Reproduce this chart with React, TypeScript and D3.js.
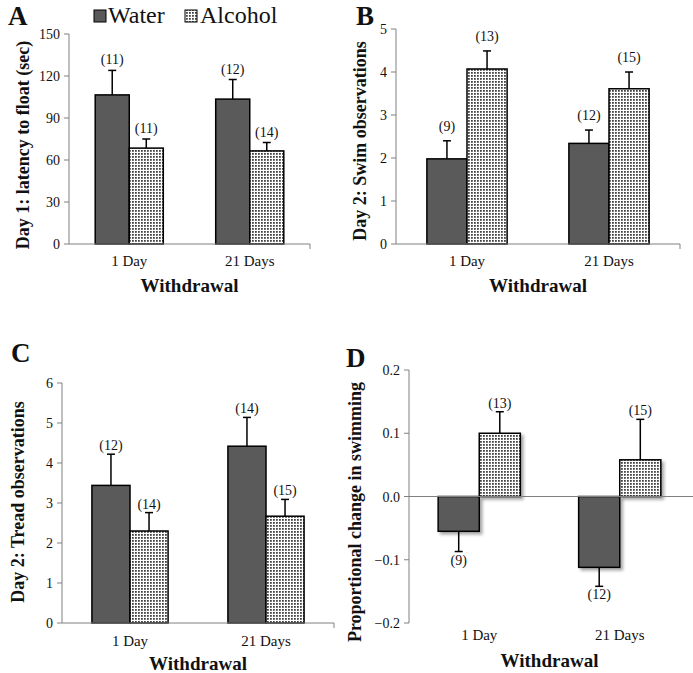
import React from "react";
import * as d3 from "d3";

const categories = ["1 Day", "21 Days"];
const seriesNames = ["Water", "Alcohol"];

// Panel A: Day 1 latency to float (sec)
const latencyWater = [106.5, 103.5];
const latencyWaterSem = [17.5, 14];
const latencyAlcohol = [68.5, 66.5];
const latencyAlcoholSem = [6.5, 6];
const latencyWaterN = [11, 12];
const latencyAlcoholN = [11, 14];
const latencyTicks = [0, 30, 60, 90, 120, 150];

// Panel B: Day 2 swim observations
const swimWater = [1.98, 2.34];
const swimWaterSem = [0.42, 0.31];
const swimAlcohol = [4.07, 3.61];
const swimAlcoholSem = [0.42, 0.39];
const swimWaterN = [9, 12];
const swimAlcoholN = [13, 15];
const swimTicks = [0, 1, 2, 3, 4, 5];

// Panel C: Day 2 tread observations
const treadWater = [3.44, 4.42];
const treadWaterSem = [0.78, 0.72];
const treadAlcohol = [2.3, 2.67];
const treadAlcoholSem = [0.46, 0.42];
const treadWaterN = [12, 14];
const treadAlcoholN = [14, 15];
const treadTicks = [0, 1, 2, 3, 4, 5, 6];

// Panel D: proportional change in swimming
const changeWater = [-0.055, -0.112];
const changeWaterSem = [0.032, 0.03];
const changeAlcohol = [0.1, 0.058];
const changeAlcoholSem = [0.034, 0.064];
const changeWaterN = [9, 12];
const changeAlcoholN = [13, 15];
const changeTicks = [-0.2, -0.1, 0, 0.1, 0.2];

const FONT = "'Liberation Serif', 'DejaVu Serif', serif";
const WATER_FILL = "#5a5a5a";
const AXIS = "#808080";

type PanelProps = {
  letter: string;
  letterX: number;
  letterY: number;
  yLabel: string;
  yLabelX: number;
  yLabelCY: number;
  x0: number;
  x1: number;
  yTop: number;
  yBot: number;
  domain: [number, number];
  ticks: number[];
  fmt: (v: number) => string;
  groupFrac: number;
  water: number[];
  waterSem: number[];
  alcohol: number[];
  alcoholSem: number[];
  waterN: number[];
  alcoholN: number[];
  catY: number;
  titleY: number;
  labelOff: number;
  zeroLineEnd?: number;
  shadow?: boolean;
  bottomAxis?: boolean;
};

function Panel(p: PanelProps) {
  const y = d3.scaleLinear().domain(p.domain).range([p.yBot, p.yTop]);
  const outer = d3.scaleBand<string>().domain(categories).range([p.x0, p.x1]);
  const gw = outer.bandwidth() * p.groupFrac;
  const inner = d3.scaleBand<string>().domain(seriesNames).range([0, gw]);
  const bw = inner.bandwidth();
  const zeroY = y(0);
  const means = [p.water, p.alcohol];
  const sems = [p.waterSem, p.alcoholSem];
  const ns = [p.waterN, p.alcoholN];
  const axisY = p.bottomAxis === false ? zeroY : p.yBot;

  const bars: React.ReactNode[] = [];
  const errs: React.ReactNode[] = [];
  const labels: React.ReactNode[] = [];
  categories.forEach((cat, ci) => {
    seriesNames.forEach((s, si) => {
      const v = means[si][ci];
      const e = sems[si][ci];
      const bx = (outer(cat) as number) + (outer.bandwidth() - gw) / 2 + (inner(s) as number);
      const top = Math.min(y(v), zeroY);
      const h = Math.abs(y(v) - zeroY);
      const cx = bx + bw / 2;
      bars.push(
        <rect
          key={`b${ci}${si}`}
          x={bx}
          y={top}
          width={bw}
          height={h}
          fill={si === 0 ? WATER_FILL : "url(#alcPat)"}
          stroke="#000"
          strokeWidth={1.5}
          filter={p.shadow ? "url(#shadow)" : undefined}
        />
      );
      const errEnd = v >= 0 ? y(v + e) : y(v - e);
      errs.push(
        <g key={`e${ci}${si}`} stroke="#000" strokeWidth={1.5}>
          <line x1={cx} x2={cx} y1={y(v)} y2={errEnd} />
          <line x1={cx - 4} x2={cx + 4} y1={errEnd} y2={errEnd} />
        </g>
      );
      labels.push(
        <text
          key={`l${ci}${si}`}
          x={cx}
          y={v >= 0 ? errEnd + p.labelOff : errEnd + 13}
          textAnchor="middle"
          fontSize={14}
          fontFamily={FONT}
          fill="#111"
        >
          {`(${ns[si][ci]})`}
        </text>
      );
    });
  });

  return (
    <g>
      <text x={p.letterX} y={p.letterY} fontSize={27} fontWeight="bold" fontFamily={FONT} fill="#111">
        {p.letter}
      </text>
      <text
        transform={`translate(${p.yLabelX},${p.yLabelCY}) rotate(-90)`}
        textAnchor="middle"
        fontSize={18}
        fontWeight="bold"
        fontFamily={FONT}
        fill="#111"
      >
        {p.yLabel}
      </text>
      {/* y axis */}
      <line x1={p.x0} x2={p.x0} y1={p.yTop} y2={p.yBot} stroke={AXIS} strokeWidth={1} />
      {p.ticks.map((t) => (
        <g key={t}>
          <line x1={p.x0 - 5} x2={p.x0} y1={y(t)} y2={y(t)} stroke={AXIS} strokeWidth={1} />
          <text
            x={p.x0 - 9}
            y={y(t) + 5}
            textAnchor="end"
            fontSize={14}
            fontFamily={FONT}
            fill="#111"
          >
            {p.fmt(t)}
          </text>
        </g>
      ))}
      {bars}
      {/* x axis */}
      <line
        x1={p.x0}
        x2={p.zeroLineEnd ?? p.x1}
        y1={axisY}
        y2={axisY}
        stroke={AXIS}
        strokeWidth={1}
      />
      {p.bottomAxis !== false && (
        <line x1={p.x1} x2={p.x1} y1={axisY} y2={axisY + 5} stroke={AXIS} strokeWidth={1} />
      )}
      {errs}
      {labels}
      {categories.map((c) => (
        <text
          key={c}
          x={(outer(c) as number) + outer.bandwidth() / 2}
          y={p.catY}
          textAnchor="middle"
          fontSize={15}
          fontFamily={FONT}
          fill="#111"
        >
          {c}
        </text>
      ))}
      <text
        x={(p.x0 + p.x1) / 2}
        y={p.titleY}
        textAnchor="middle"
        fontSize={19}
        fontWeight="bold"
        fontFamily={FONT}
        fill="#111"
      >
        Withdrawal
      </text>
    </g>
  );
}

export default function App() {
  const fmtInt = (v: number) => String(v);
  const fmtD = (v: number) => d3.format(".1f")(v);
  return (
    <svg
      width={693}
      height={673}
      style={{ position: "absolute", left: 0, top: 0, background: "#fff" }}
    >
      <defs>
        <pattern id="alcPat" width={3} height={3} patternUnits="userSpaceOnUse">
          <rect width={3} height={3} fill="#fff" />
          <rect width={1.8} height={1.8} fill="#444" />
        </pattern>
        <filter id="shadow" x="-20%" y="-20%" width="150%" height="150%">
          <feDropShadow dx={2.5} dy={2.5} stdDeviation={1.5} floodColor="#000" floodOpacity={0.35} />
        </filter>
      </defs>
      <rect width={693} height={673} fill="#fff" />

      {/* legend */}
      <rect x={94} y={10} width={12} height={12} fill={WATER_FILL} stroke="#000" strokeWidth={1} />
      <text x={108} y={23} fontSize={24} fontFamily={FONT} fill="#111">
        {seriesNames[0]}
      </text>
      <rect x={185} y={10} width={12} height={12} fill="url(#alcPat)" stroke="#000" strokeWidth={1} />
      <text x={200} y={23} fontSize={24} fontFamily={FONT} fill="#111">
        {seriesNames[1]}
      </text>

      <Panel
        letter="A"
        letterX={8}
        letterY={25}
        yLabel="Day 1: latency to float (sec)"
        yLabelX={29}
        yLabelCY={145}
        x0={69}
        x1={310}
        yTop={34}
        yBot={244}
        domain={[0, 150]}
        ticks={latencyTicks}
        fmt={fmtInt}
        groupFrac={0.565}
        water={latencyWater}
        waterSem={latencyWaterSem}
        alcohol={latencyAlcohol}
        alcoholSem={latencyAlcoholSem}
        waterN={latencyWaterN}
        alcoholN={latencyAlcoholN}
        catY={266}
        titleY={292}
        labelOff={-6}
      />
      <Panel
        letter="B"
        letterX={356}
        letterY={25}
        yLabel="Day 2: Swim observations"
        yLabelX={366}
        yLabelCY={141}
        x0={396}
        x1={680}
        yTop={29}
        yBot={244}
        domain={[0, 5]}
        ticks={swimTicks}
        fmt={fmtInt}
        groupFrac={0.565}
        water={swimWater}
        waterSem={swimWaterSem}
        alcohol={swimAlcohol}
        alcoholSem={swimAlcoholSem}
        waterN={swimWaterN}
        alcoholN={swimAlcoholN}
        catY={266}
        titleY={292}
        labelOff={-10}
      />
      <Panel
        letter="C"
        letterX={11}
        letterY={362}
        yLabel="Day 2: Tread observations"
        yLabelX={24}
        yLabelCY={502}
        x0={62}
        x1={334}
        yTop={383}
        yBot={623}
        domain={[0, 6]}
        ticks={treadTicks}
        fmt={fmtInt}
        groupFrac={0.56}
        water={treadWater}
        waterSem={treadWaterSem}
        alcohol={treadAlcohol}
        alcoholSem={treadAlcoholSem}
        waterN={treadWaterN}
        alcoholN={treadAlcoholN}
        catY={646}
        titleY={670}
        labelOff={-4}
      />
      <Panel
        letter="D"
        letterX={346}
        letterY={367}
        yLabel="Proportional change in swimming"
        yLabelX={361}
        yLabelCY={512}
        x0={409}
        x1={690}
        yTop={370}
        yBot={623}
        domain={[-0.2, 0.2]}
        ticks={changeTicks}
        fmt={fmtD}
        groupFrac={0.585}
        water={changeWater}
        waterSem={changeWaterSem}
        alcohol={changeAlcohol}
        alcoholSem={changeAlcoholSem}
        waterN={changeWaterN}
        alcoholN={changeAlcoholN}
        catY={640}
        titleY={667}
        labelOff={-4}
        zeroLineEnd={693}
        shadow={true}
        bottomAxis={false}
      />
    </svg>
  );
}
